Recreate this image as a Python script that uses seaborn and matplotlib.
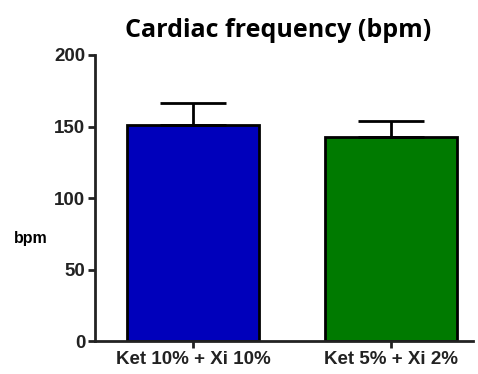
import matplotlib
matplotlib.use("Agg")
import matplotlib.pyplot as plt
import seaborn as sns
import pandas as pd
import numpy as np

categories = ["Ket 10% + Xi 10%", "Ket 5% + Xi 2%"]
means = [151, 142.5]
sem = [15.5, 11.5]
colors = ["#0000BB", "#007A00"]
yticks = [0, 50, 100, 150, 200]

sns.set_theme(style="ticks")
plt.rcParams['font.family'] = ['Liberation Sans', 'DejaVu Sans']

df = pd.DataFrame({"group": categories, "bpm": means})

fig = plt.figure(figsize=(4.78, 3.74), dpi=100)
ax = fig.add_axes([0.199, 0.088, 0.79, 0.765])

sns.barplot(data=df, x="group", y="bpm", hue="group", palette=colors,
            saturation=1, width=0.667, edgecolor="black", linewidth=2,
            errorbar=None, legend=False, ax=ax)
x = np.arange(len(categories))
ax.errorbar(x, means, yerr=[np.zeros(len(sem)), sem], fmt="none",
            ecolor="black", elinewidth=2, capsize=24, capthick=2, zorder=1)

ax.set_ylim(0, 200)
ax.set_xlim(-0.495, 1.412)
ax.set_yticks(yticks)
ax.set_yticklabels([str(t) for t in yticks])
ax.set_xlabel("")
ax.set_ylabel("bpm", rotation=0, fontsize=11.5, fontweight="bold",
              va="center", ha="center", color="black")
ax.yaxis.set_label_coords(-0.17, 0.36)
ax.set_title("Cardiac frequency (bpm)", fontsize=18, fontweight="bold",
             family=["Open Sans", "DejaVu Sans"], pad=13, color="black",
             x=0.485)
for lbl in ax.get_xticklabels() + ax.get_yticklabels():
    lbl.set_fontweight("bold")
    lbl.set_fontsize(13.5)
    lbl.set_color("#222222")
sns.despine(ax=ax)
for s in ["left", "bottom"]:
    ax.spines[s].set_linewidth(2)
    ax.spines[s].set_color("#222222")
ax.tick_params(width=2, length=5, color="#222222", pad=2)

fig.savefig("out.png", dpi=100)
